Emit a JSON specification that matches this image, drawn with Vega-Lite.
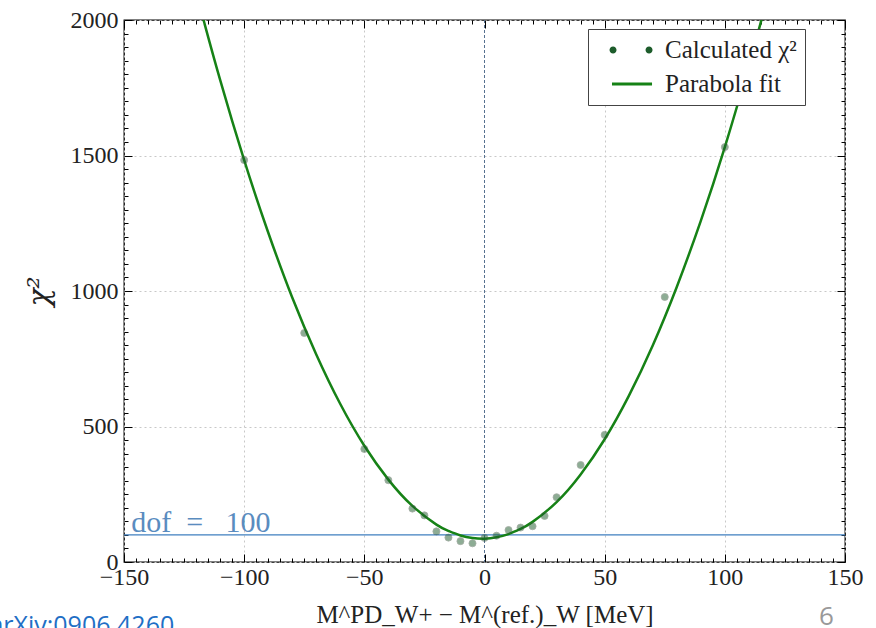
{
  "$schema": "https://vega.github.io/schema/vega-lite/v6.json",
  "width": 721,
  "height": 542,
  "autosize": {"type": "none"},
  "padding": {"left": 124, "top": 20, "right": 31, "bottom": 66},
  "background": "white",
  "config": {
    "view": {"stroke": "#000", "strokeWidth": 1.3},
    "font": "Liberation Serif",
    "axis": {
      "domain": false,
      "labelFont": "Liberation Serif",
      "labelFontSize": 24,
      "labelColor": "#222",
      "tickColor": "#000",
      "tickWidth": 1,
      "titleFont": "Liberation Serif",
      "titleFontWeight": "normal",
      "titleColor": "#222",
      "labelOverlap": false,
      "labelFlush": false
    }
  },
  "datasets": {
    "chi": [
      {"x": -118, "y": 2036, "series": "Parabola fit"},
      {"x": -116.5, "y": 1987, "series": "Parabola fit"},
      {"x": -110, "y": 1779, "series": "Parabola fit"},
      {"x": -100, "y": 1483, "series": "Parabola fit"},
      {"x": -90, "y": 1216, "series": "Parabola fit"},
      {"x": -80, "y": 976, "series": "Parabola fit"},
      {"x": -70, "y": 766, "series": "Parabola fit"},
      {"x": -60, "y": 583, "series": "Parabola fit"},
      {"x": -50, "y": 429, "series": "Parabola fit"},
      {"x": -40, "y": 304, "series": "Parabola fit"},
      {"x": -30, "y": 207, "series": "Parabola fit"},
      {"x": -20, "y": 138, "series": "Parabola fit"},
      {"x": -15, "y": 114.5, "series": "Parabola fit"},
      {"x": -10, "y": 98, "series": "Parabola fit"},
      {"x": -5, "y": 88.5, "series": "Parabola fit"},
      {"x": 0, "y": 86, "series": "Parabola fit"},
      {"x": 5, "y": 91, "series": "Parabola fit"},
      {"x": 10, "y": 103, "series": "Parabola fit"},
      {"x": 15, "y": 122, "series": "Parabola fit"},
      {"x": 20, "y": 148, "series": "Parabola fit"},
      {"x": 30, "y": 221, "series": "Parabola fit"},
      {"x": 40, "y": 323, "series": "Parabola fit"},
      {"x": 50, "y": 453, "series": "Parabola fit"},
      {"x": 60, "y": 612, "series": "Parabola fit"},
      {"x": 70, "y": 799, "series": "Parabola fit"},
      {"x": 80, "y": 1015, "series": "Parabola fit"},
      {"x": 90, "y": 1259, "series": "Parabola fit"},
      {"x": 100, "y": 1531, "series": "Parabola fit"},
      {"x": 110, "y": 1832, "series": "Parabola fit"},
      {"x": 115, "y": 1993, "series": "Parabola fit"},
      {"x": 117, "y": 2059, "series": "Parabola fit"},
      {"x": -100, "y": 1483, "series": "Calculated χ²"},
      {"x": -75, "y": 845, "series": "Calculated χ²"},
      {"x": -50, "y": 417, "series": "Calculated χ²"},
      {"x": -40, "y": 302, "series": "Calculated χ²"},
      {"x": -30, "y": 197, "series": "Calculated χ²"},
      {"x": -25, "y": 172, "series": "Calculated χ²"},
      {"x": -20, "y": 113, "series": "Calculated χ²"},
      {"x": -15, "y": 90, "series": "Calculated χ²"},
      {"x": -10, "y": 77, "series": "Calculated χ²"},
      {"x": -5, "y": 69, "series": "Calculated χ²"},
      {"x": 0, "y": 89, "series": "Calculated χ²"},
      {"x": 5, "y": 97, "series": "Calculated χ²"},
      {"x": 10, "y": 118, "series": "Calculated χ²"},
      {"x": 15, "y": 127, "series": "Calculated χ²"},
      {"x": 20, "y": 132, "series": "Calculated χ²"},
      {"x": 25, "y": 170, "series": "Calculated χ²"},
      {"x": 30, "y": 239, "series": "Calculated χ²"},
      {"x": 40, "y": 358, "series": "Calculated χ²"},
      {"x": 50, "y": 469, "series": "Calculated χ²"},
      {"x": 75, "y": 978, "series": "Calculated χ²"},
      {"x": 100, "y": 1531, "series": "Calculated χ²"}
    ],
    "one": [{"k": 1}]
  },
  "resolve": {"axis": {"x": "independent", "y": "independent"}},
  "layer": [
    {
      "data": {"name": "one"},
      "mark": {"type": "rule", "color": "#56708f", "strokeWidth": 1, "strokeDash": [3, 2]},
      "encoding": {
        "x": {"datum": 0, "type": "quantitative", "scale": {"domain": [-150, 150], "nice": false, "zero": false},
          "axis": {
            "orient": "bottom",
            "values": [-150,-145,-140,-135,-130,-125,-120,-115,-110,-105,-100,-95,-90,-85,-80,-75,-70,-65,-60,-55,-50,-45,-40,-35,-30,-25,-20,-15,-10,-5,0,5,10,15,20,25,30,35,40,45,50,55,60,65,70,75,80,85,90,95,100,105,110,115,120,125,130,135,140,145,150],
            "labelExpr": "datum.value % 50 === 0 ? (datum.value < 0 ? '\u2212' + abs(datum.value) : '' + datum.value) : ''",
            "tickSize": {"condition": {"test": "datum.value % 50 === 0", "value": -8}, "value": -4},
            "labelPadding": 11,
            "grid": true,
            "gridColor": "#c8c8c8",
            "gridDash": [2, 3],
            "gridWidth": 1,
            "gridOpacity": {"condition": {"test": "datum.value % 50 === 0 && datum.value !== 0", "value": 1}, "value": 0},
            "title": "M^PD_W+ \u2212 M^(ref.)_W  [MeV]",
            "titleFontSize": 25,
            "titlePadding": 9
          }
        }
      }
    },
    {
      "data": {"name": "one"},
      "mark": {"type": "rule", "color": "#3f7fbf", "strokeWidth": 1.2},
      "encoding": {
        "y": {"datum": 100, "type": "quantitative", "scale": {"domain": [0, 2000], "nice": false, "zero": false},
          "axis": {
            "orient": "left",
            "values": [0,50,100,150,200,250,300,350,400,450,500,550,600,650,700,750,800,850,900,950,1000,1050,1100,1150,1200,1250,1300,1350,1400,1450,1500,1550,1600,1650,1700,1750,1800,1850,1900,1950,2000],
            "labelExpr": "datum.value % 500 === 0 ? '' + datum.value : ''",
            "tickSize": {"condition": {"test": "datum.value % 500 === 0", "value": -8}, "value": -4},
            "labelPadding": 14,
            "grid": true,
            "gridColor": "#c8c8c8",
            "gridDash": [2, 3],
            "gridWidth": 1,
            "gridOpacity": {"condition": {"test": "datum.value % 500 === 0", "value": 1}, "value": 0},
            "title": "χ²",
            "titleFont": "DejaVu Serif",
            "titleFontStyle": "italic",
            "titleFontSize": 30,
            "titlePadding": 16
          }
        }
      }
    },
    {
      "data": {"name": "chi"},
      "transform": [{"filter": "datum.series === 'Parabola fit'"}],
      "mark": {"type": "line", "strokeWidth": 2.5, "interpolate": "natural", "clip": true},
      "encoding": {
        "x": {"field": "x", "type": "quantitative",
          "axis": {
            "orient": "top",
            "values": [-150,-145,-140,-135,-130,-125,-120,-115,-110,-105,-100,-95,-90,-85,-80,-75,-70,-65,-60,-55,-50,-45,-40,-35,-30,-25,-20,-15,-10,-5,0,5,10,15,20,25,30,35,40,45,50,55,60,65,70,75,80,85,90,95,100,105,110,115,120,125,130,135,140,145,150],
            "labels": false,
            "tickSize": {"condition": {"test": "datum.value % 50 === 0", "value": -8}, "value": -4},
            "grid": false,
            "title": null
          }
        },
        "y": {"field": "y", "type": "quantitative",
          "axis": {
            "orient": "right",
            "values": [0,50,100,150,200,250,300,350,400,450,500,550,600,650,700,750,800,850,900,950,1000,1050,1100,1150,1200,1250,1300,1350,1400,1450,1500,1550,1600,1650,1700,1750,1800,1850,1900,1950,2000],
            "labels": false,
            "tickSize": {"condition": {"test": "datum.value % 500 === 0", "value": -8}, "value": -4},
            "grid": false,
            "title": null
          }
        },
        "color": {"field": "series", "type": "nominal",
          "scale": {"domain": ["Calculated χ²", "Parabola fit"], "range": ["#1d5c2b", "#168216"]},
          "legend": {
            "title": null,
            "orient": "none",
            "legendX": 464,
            "legendY": 9,
            "fillColor": "white",
            "strokeColor": "#444",
            "padding": 8,
            "cornerRadius": 0,
            "labelFont": "Liberation Serif",
            "labelFontSize": 25,
            "labelColor": "#222",
            "labelOffset": 43,
            "symbolSize": 676,
            "rowPadding": 8,
            "symbolStrokeWidth": 0,
            "encode": {
              "symbols": {
                "update": {
                  "shape": {"signal": "datum.value === 'Parabola fit' ? 'M0.23,-0.115H3.31V0.115H0.23Z' : 'M0.04,0A0.27,0.27,0,1,0,0.58,0A0.27,0.27,0,1,0,0.04,0ZM2.81,0A0.27,0.27,0,1,0,3.35,0A0.27,0.27,0,1,0,2.81,0Z'"},
                  "fill": {"signal": "datum.value === 'Parabola fit' ? '#168216' : '#1d5c2b'"},
                  "opacity": {"value": 1},
                  "strokeWidth": {"value": 0}
                }
              }
            }
          }
        }
      }
    },
    {
      "data": {"name": "chi"},
      "transform": [{"filter": "datum.series !== 'Parabola fit'"}],
      "mark": {"type": "circle", "size": 50, "opacity": 0.5, "stroke": "#4a5a4a", "strokeWidth": 0.8},
      "encoding": {
        "x": {"field": "x", "type": "quantitative", "axis": null},
        "y": {"field": "y", "type": "quantitative", "axis": null},
        "color": {"field": "series", "type": "nominal"}
      }
    },
    {
      "data": {"name": "one"},
      "mark": {"type": "text", "align": "left", "baseline": "alphabetic", "font": "Liberation Serif", "fontSize": 30, "color": "#5a8cbf", "clip": false},
      "encoding": {
        "x": {"datum": -147, "type": "quantitative", "axis": null},
        "y": {"datum": 112, "type": "quantitative", "axis": null},
        "text": {"value": "dof\u00a0\u00a0=\u00a0\u00a0\u00a0100"}
      }
    },
    {
      "data": {"name": "one"},
      "mark": {"type": "text", "align": "left", "baseline": "alphabetic", "font": "Open Sans", "fontSize": 25, "color": "#1f6fc5", "clip": false},
      "encoding": {
        "x": {"datum": -206, "type": "quantitative", "axis": null},
        "y": {"datum": -266, "type": "quantitative", "axis": null},
        "text": {"value": "arXiv:0906.4260"}
      }
    },
    {
      "data": {"name": "one"},
      "mark": {"type": "text", "align": "center", "baseline": "alphabetic", "font": "Open Sans", "fontSize": 26, "color": "#999999", "clip": false},
      "encoding": {
        "x": {"datum": 142.3, "type": "quantitative", "axis": null},
        "y": {"datum": -232, "type": "quantitative", "axis": null},
        "text": {"value": "6"}
      }
    }
  ]
}
